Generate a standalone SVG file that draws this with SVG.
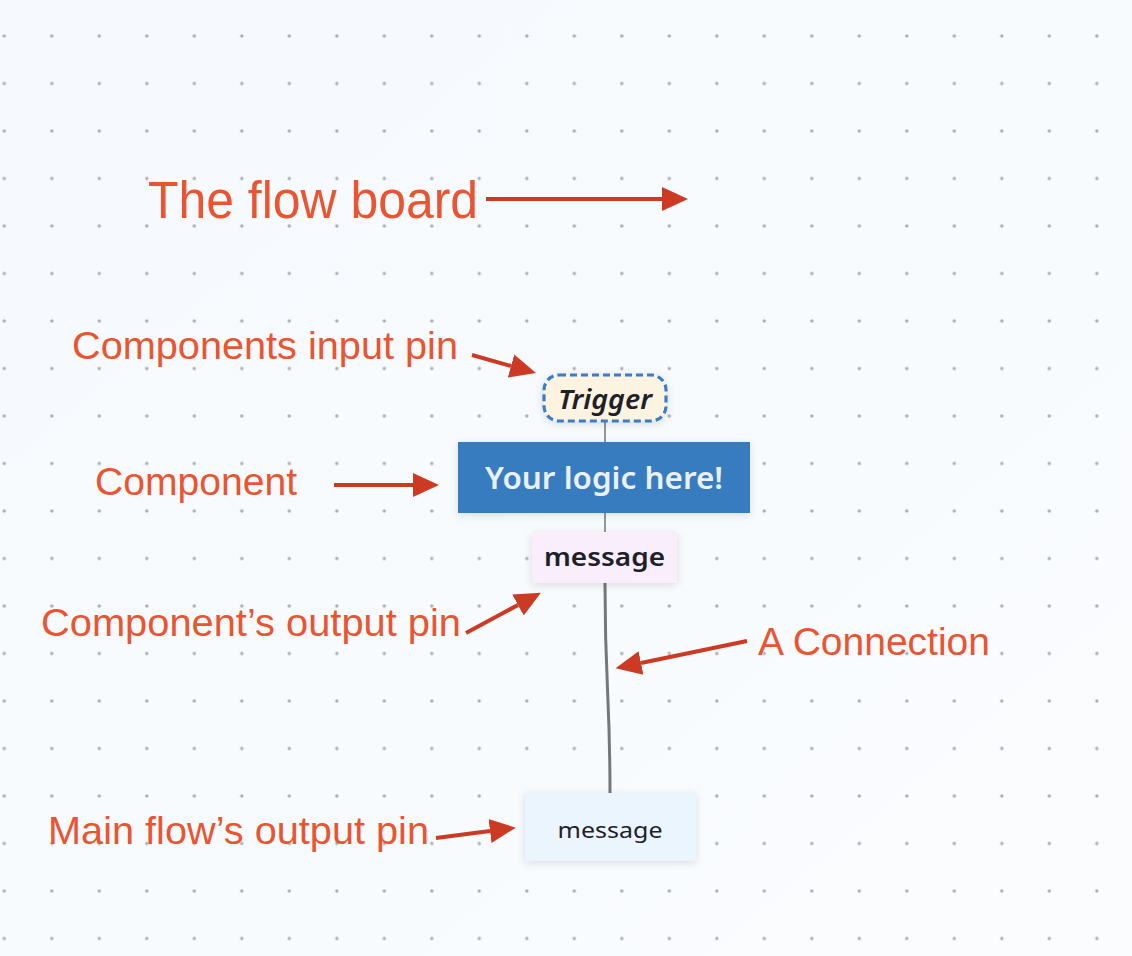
<svg xmlns="http://www.w3.org/2000/svg" width="1132" height="956" viewBox="0 0 1132 956">
  <defs>
    <linearGradient id="bg" x1="0" y1="0" x2="1" y2="1">
      <stop offset="0" stop-color="#f6fafe"/>
      <stop offset="0.5" stop-color="#f7fbfe"/>
      <stop offset="1" stop-color="#fbfcfe"/>
    </linearGradient>
    <pattern id="dots" patternUnits="userSpaceOnUse" x="-19.45" y="12.25" width="47.5" height="47.5">
      <circle cx="23.75" cy="23.75" r="1.7" fill="#aaadb1"/>
    </pattern>
    <marker id="head" markerUnits="userSpaceOnUse" viewBox="0 -13 27 26" refX="0" refY="0" markerWidth="27" markerHeight="26" orient="auto">
      <path d="M0,-12 L26,0 L0,12 Z" fill="#cd3a23"/>
    </marker>
    <filter id="shadow" x="-20%" y="-30%" width="140%" height="160%">
      <feDropShadow dx="0" dy="2" stdDeviation="4" flood-color="#000" flood-opacity="0.12"/>
    </filter>
    <style>
      .lbl { font-family: "Liberation Sans", Arial, sans-serif; fill: #ea5430; }
      .ann { fill: none; stroke: #cd3a23; stroke-width: 4; marker-end: url(#head); }
      .wire { fill: none; stroke: #8a8a8a; stroke-width: 1.8; }
      .node-text { font-family: "Noto Sans", "Open Sans", sans-serif; fill: #1f2129; }
    </style>
  </defs>

  <rect x="0" y="0" width="1132" height="956" fill="url(#bg)"/>
  <rect x="0" y="0" width="1132" height="956" fill="url(#dots)"/>

  <g id="connectors">
    <line class="wire" x1="605" y1="422" x2="605" y2="442"/>
    <line class="wire" x1="605" y1="513" x2="605" y2="532"/>
    <path id="connection" d="M605,583 C605,690 610,690 610,794" fill="none" stroke="#777" stroke-width="3"/>
  </g>

  <g id="node-trigger">
    <rect x="544" y="375" width="122" height="46" rx="15" fill="#fcf3e0" stroke="#3a7bc8" stroke-width="3.2" stroke-dasharray="7,4" filter="url(#shadow)"/>
    <text class="node-text" x="605" y="409" text-anchor="middle" font-size="27" font-style="italic" font-weight="600" textLength="94" lengthAdjust="spacingAndGlyphs">Trigger</text>
  </g>

  <g id="node-component">
    <rect x="458" y="442" width="292" height="71" fill="#377bc0" filter="url(#shadow)"/>
    <text class="node-text" x="604" y="489" text-anchor="middle" font-size="30" font-weight="600" style="fill:#eaf0f6" textLength="238" lengthAdjust="spacingAndGlyphs">Your logic here!</text>
  </g>

  <g id="node-output-pin">
    <rect x="532" y="532" width="145" height="51" rx="3" fill="#f9eefb" filter="url(#shadow)"/>
    <text class="node-text" x="604.5" y="566" text-anchor="middle" font-size="26" font-weight="600" textLength="121" lengthAdjust="spacingAndGlyphs">message</text>
  </g>

  <g id="node-main-output">
    <rect x="525" y="793" width="171" height="68" fill="#eaf5fe" filter="url(#shadow)"/>
    <text class="node-text" x="610" y="838" text-anchor="middle" font-size="22" textLength="105" lengthAdjust="spacingAndGlyphs">message</text>
  </g>

  <g id="annotations">
    <text class="lbl" x="148" y="218" font-size="51" textLength="330" lengthAdjust="spacingAndGlyphs">The flow board</text>
    <path class="ann" d="M486,199 L662,199"/>

    <text class="lbl" x="72" y="359" font-size="39" textLength="386" lengthAdjust="spacingAndGlyphs">Components input pin</text>
    <path class="ann" d="M472,355 L511,366"/>

    <text class="lbl" x="95" y="495" font-size="39" textLength="202" lengthAdjust="spacingAndGlyphs">Component</text>
    <path class="ann" d="M334,485 L413,485"/>

    <text class="lbl" x="41" y="636" font-size="39" textLength="420" lengthAdjust="spacingAndGlyphs">Component’s output pin</text>
    <path class="ann" d="M466,633 L518,605"/>

    <text class="lbl" x="758" y="655" font-size="39" textLength="232" lengthAdjust="spacingAndGlyphs">A Connection</text>
    <path class="ann" d="M747,641 L641,663"/>

    <text class="lbl" x="48" y="844" font-size="39" textLength="381" lengthAdjust="spacingAndGlyphs">Main flow’s output pin</text>
    <path class="ann" d="M436,838 L490,831"/>
  </g>
</svg>
